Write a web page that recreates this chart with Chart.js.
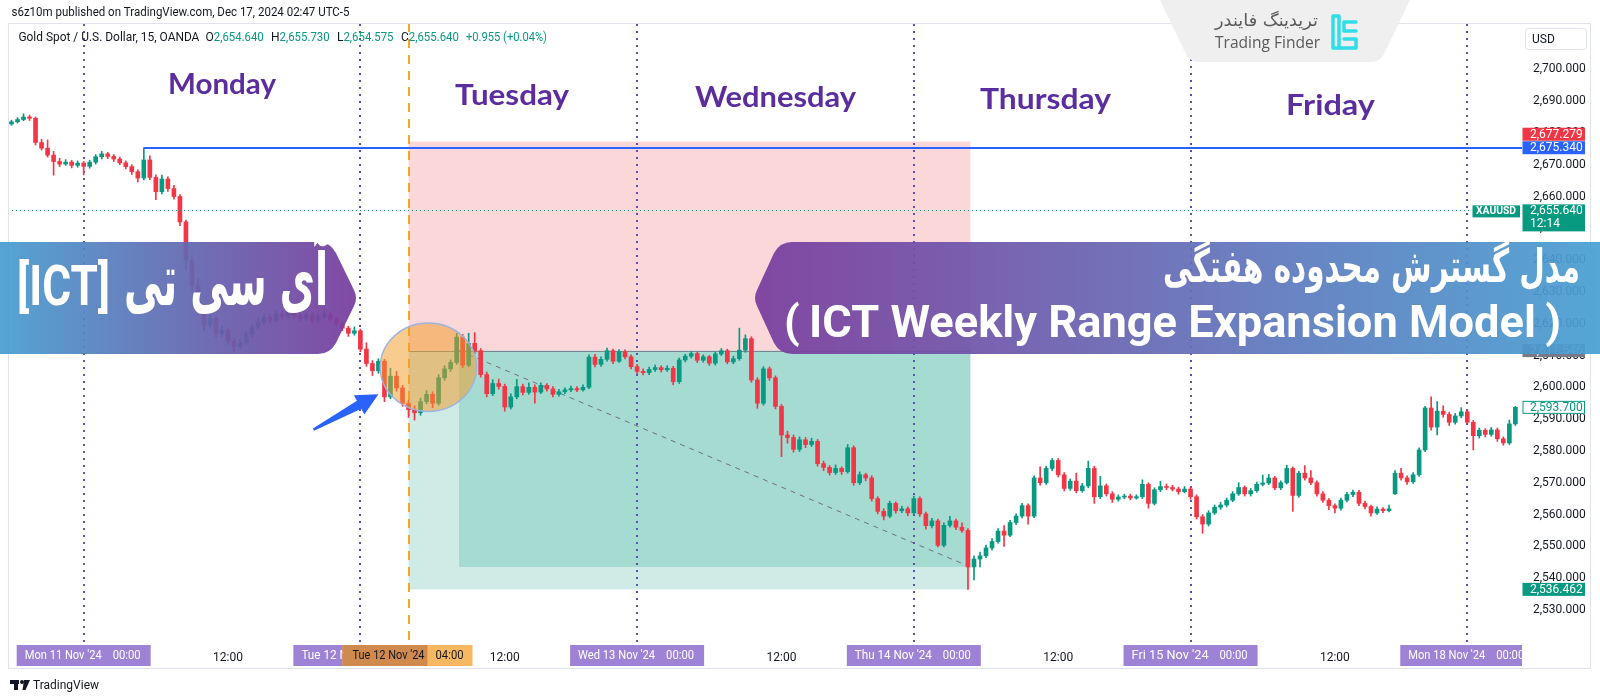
<!DOCTYPE html>
<html><head><meta charset="utf-8">
<script src="https://cdn.jsdelivr.net/npm/chart.js@4.4.1/dist/chart.umd.min.js"></script>
<style>html,body{margin:0;padding:0;background:#fff;}canvas{display:block;}</style>
</head><body>
<canvas id="c" width="1600" height="700"></canvas>
<script>
// ---- XAUUSD bars (30-min aggregation), index 0 = Sun 10 Nov 18:00 ----
const opens = [
2682.8,2683.5,2684.2,2685.0,2684.6,2677.0,2675.2,2673.0,2671.0,2670.2,
2670.8,2669.8,2670.5,2669.5,2670.8,2672.5,2673.4,2672.6,2671.8,2670.6,
2669.4,2667.8,2665.8,2671.5,2666.0,2661.5,2665.5,2662.5,2660.0,2652.0,
2640.0,2632.0,2624.5,2619.5,2621.5,2616.8,2618.0,2614.5,2612.8,2614.0,
2616.5,2619.0,2620.5,2622.0,2621.0,2623.0,2622.4,2623.8,2622.5,2621.6,
2622.8,2621.0,2622.2,2623.0,2621.4,2620.0,2618.6,2617.0,2617.8,2612.0,
2607.5,2605.2,2608.2,2597.0,2603.5,2599.8,2595.0,2593.0,2592.0,2595.5,
2597.8,2595.0,2603.0,2605.8,2607.8,2615.8,2607.0,2613.8,2611.5,2604.0,
2598.0,2601.2,2600.3,2593.8,2597.0,2600.2,2598.4,2600.0,2598.5,2600.6,
2599.5,2597.8,2598.6,2599.2,2599.6,2599.2,2600.0,2609.5,2607.2,2608.8,
2611.5,2608.2,2611.2,2609.6,2606.5,2605.0,2604.6,2605.6,2606.2,2605.5,
2606.0,2601.8,2608.6,2609.8,2610.6,2608.5,2609.6,2607.6,2610.5,2611.5,
2608.0,2609.0,2611.7,2615.3,2602.3,2595.0,2605.8,2603.0,2594.0,2585.0,
2584.2,2580.5,2583.5,2582.0,2583.0,2576.0,2574.8,2573.2,2574.5,2573.5,
2581.0,2570.0,2572.5,2571.5,2565.0,2561.0,2559.5,2563.5,2561.2,2561.8,
2560.5,2565.0,2560.2,2556.5,2558.0,2550.3,2556.6,2558.0,2556.0,2555.0,
2543.5,2546.0,2547.0,2549.5,2551.5,2554.8,2553.5,2557.5,2559.5,2562.8,
2559.5,2571.5,2570.0,2574.5,2577.0,2572.5,2568.2,2570.5,2567.5,2569.0,
2574.5,2565.6,2569.0,2566.5,2564.8,2565.5,2565.8,2565.2,2565.6,2569.5,
2563.5,2567.8,2568.8,2568.5,2568.0,2567.2,2568.0,2565.6,2559.3,2557.0,
2560.5,2562.3,2563.0,2564.5,2566.5,2568.5,2566.5,2567.5,2569.5,2569.9,
2571.5,2568.4,2570.0,2574.5,2566.0,2573.0,2571.5,2570.0,2566.5,2564.5,
2562.8,2562.0,2564.5,2566.3,2567.0,2563.5,2562.5,2560.5,2561.7,2561.2,
2566.5,2573.0,2571.5,2570.3,2572.5,2580.3,2593.5,2587.5,2592.5,2591.5,
2589.0,2591.0,2592.3,2589.0,2584.8,2586.5,2585.2,2586.6,2583.8,2582.5,
2588.5];
const highs = [
2684.0,2684.8,2686.0,2685.6,2685.0,2678.0,2677.8,2674.2,2672.0,2671.6,
2671.4,2671.2,2671.0,2671.4,2673.2,2674.2,2673.9,2673.2,2672.4,2671.2,
2670.0,2668.4,2675.34,2672.8,2666.8,2666.7,2666.2,2663.5,2660.6,2652.6,
2641.5,2634.0,2626.0,2623.0,2622.3,2619.4,2618.8,2615.6,2615.2,2617.5,
2620.0,2621.8,2623.2,2622.8,2624.0,2623.9,2625.5,2624.4,2623.2,2623.6,
2623.4,2623.0,2624.2,2623.6,2622.0,2620.8,2619.2,2619.0,2618.3,2614.0,
2608.4,2609.0,2608.8,2606.0,2605.0,2600.6,2596.0,2594.2,2596.6,2599.0,
2598.6,2604.0,2606.8,2608.6,2617.0,2616.6,2617.0,2617.2,2612.2,2604.8,
2602.4,2602.6,2601.0,2598.0,2602.5,2601.0,2601.4,2600.8,2601.4,2601.2,
2600.2,2599.4,2599.8,2600.4,2600.2,2600.8,2610.2,2610.4,2609.6,2612.3,
2612.0,2611.9,2611.8,2610.2,2607.2,2605.8,2606.4,2607.0,2606.8,2606.8,
2606.6,2609.2,2610.4,2611.3,2611.0,2610.2,2610.0,2611.0,2612.2,2612.0,
2609.8,2618.6,2616.5,2615.9,2603.0,2606.5,2606.4,2603.6,2594.6,2586.2,
2585.0,2584.4,2584.2,2584.0,2583.6,2576.8,2575.4,2575.6,2575.0,2582.0,
2581.6,2573.4,2573.0,2572.2,2565.6,2561.8,2564.2,2564.0,2562.6,2562.4,
2565.8,2565.6,2560.8,2558.8,2558.6,2557.4,2559.4,2558.6,2557.4,2555.6,
2547.0,2548.2,2550.4,2552.4,2555.6,2556.5,2558.2,2560.2,2563.5,2563.4,
2572.2,2575.0,2575.2,2577.6,2577.6,2573.2,2571.2,2573.0,2569.8,2576.8,
2575.2,2572.0,2569.6,2567.2,2566.2,2566.4,2566.4,2566.2,2570.9,2570.0,
2568.4,2570.5,2569.6,2569.2,2568.6,2568.8,2568.6,2566.2,2560.0,2561.2,
2563.0,2563.8,2565.2,2567.2,2570.0,2569.0,2568.2,2570.2,2572.4,2572.6,
2572.0,2570.6,2575.5,2575.0,2573.6,2575.4,2573.8,2570.6,2567.2,2565.0,
2563.4,2565.2,2567.0,2567.7,2567.6,2564.2,2563.0,2562.4,2562.2,2563.0,
2573.8,2574.5,2572.2,2573.2,2581.0,2594.0,2597.0,2595.5,2594.2,2592.2,
2591.8,2593.6,2593.0,2589.6,2587.2,2587.0,2587.4,2587.2,2584.4,2589.7,
2594.0];
const lows = [
2682.4,2683.1,2683.8,2683.9,2676.2,2674.6,2672.4,2666.7,2669.4,2669.8,
2669.0,2669.2,2666.8,2668.9,2670.2,2671.8,2671.9,2671.0,2670.0,2668.7,
2666.9,2664.6,2665.2,2665.3,2659.0,2660.8,2661.6,2659.2,2650.8,2637.0,
2630.5,2622.5,2617.8,2618.6,2615.8,2615.9,2613.4,2611.2,2612.0,2613.4,
2615.8,2618.4,2619.8,2620.0,2620.4,2621.5,2621.8,2621.6,2620.7,2621.0,
2620.2,2620.4,2621.6,2620.6,2619.2,2617.8,2616.0,2616.4,2611.2,2606.6,
2603.7,2604.4,2595.5,2596.4,2598.8,2594.0,2590.5,2589.7,2591.2,2594.8,
2593.6,2594.4,2602.2,2605.0,2607.2,2606.2,2606.5,2610.6,2603.2,2597.0,
2597.4,2599.4,2592.5,2593.2,2596.4,2597.6,2597.8,2595.0,2598.0,2598.8,
2597.0,2597.2,2598.0,2598.6,2598.6,2598.8,2599.6,2606.4,2606.6,2608.2,
2607.4,2607.8,2608.9,2605.8,2604.2,2603.9,2604.0,2605.0,2604.8,2605.0,
2600.8,2601.2,2608.0,2609.2,2607.8,2607.9,2606.9,2607.0,2610.0,2607.4,
2607.4,2608.5,2611.0,2601.6,2593.4,2594.4,2602.2,2593.2,2578.2,2582.4,
2579.6,2579.8,2581.0,2581.4,2575.2,2573.8,2572.4,2572.6,2572.6,2573.0,
2569.2,2569.4,2570.6,2564.2,2560.2,2558.3,2559.0,2560.4,2560.6,2559.6,
2560.0,2559.4,2555.4,2555.8,2549.8,2549.8,2556.0,2555.2,2554.4,2536.46,
2539.4,2543.5,2546.4,2548.8,2551.0,2550.0,2553.0,2556.8,2558.9,2557.0,
2559.0,2569.2,2569.5,2573.8,2571.8,2567.4,2567.6,2566.8,2567.0,2568.4,
2563.5,2565.0,2565.8,2563.8,2564.2,2565.0,2564.6,2564.8,2565.0,2562.0,
2563.0,2567.2,2567.8,2567.4,2566.4,2566.8,2564.8,2558.6,2554.1,2556.4,
2560.0,2561.6,2562.4,2564.0,2566.0,2565.8,2565.8,2567.0,2569.0,2569.4,
2567.8,2567.8,2569.6,2561.0,2565.4,2570.8,2569.4,2565.8,2563.8,2561.5,
2560.5,2561.4,2564.0,2565.6,2562.8,2561.8,2559.5,2560.0,2560.6,2560.8,
2566.3,2570.8,2569.5,2569.8,2572.0,2579.8,2586.5,2585.0,2590.6,2588.0,
2588.4,2590.4,2588.4,2580.3,2584.0,2584.4,2584.6,2583.0,2581.8,2582.0,
2588.0];
const closes = [
2683.5,2684.2,2685.0,2684.6,2677.0,2675.2,2673.0,2671.0,2670.2,2670.8,
2669.8,2670.5,2669.5,2670.8,2672.5,2673.4,2672.6,2671.8,2670.6,2669.4,
2667.8,2665.8,2671.5,2666.0,2661.5,2665.5,2662.5,2660.0,2652.0,2640.0,
2632.0,2624.5,2619.5,2621.5,2616.8,2618.0,2614.5,2612.8,2614.0,2616.5,
2619.0,2620.5,2622.0,2621.0,2623.0,2622.4,2623.8,2622.5,2621.6,2622.8,
2621.0,2622.2,2623.0,2621.4,2620.0,2618.6,2617.0,2617.8,2612.0,2607.5,
2605.2,2608.2,2597.0,2603.5,2599.8,2595.0,2593.0,2592.0,2595.5,2597.8,
2595.0,2603.0,2605.8,2607.8,2615.8,2607.0,2613.8,2611.5,2604.0,2598.0,
2601.2,2600.3,2593.8,2597.0,2600.2,2598.4,2600.0,2598.5,2600.6,2599.5,
2597.8,2598.6,2599.2,2599.6,2599.2,2600.0,2609.5,2607.2,2608.8,2611.5,
2608.2,2611.2,2609.6,2606.5,2605.0,2604.6,2605.6,2606.2,2605.5,2606.0,
2601.8,2608.6,2609.8,2610.6,2608.5,2609.6,2607.6,2610.5,2611.5,2608.0,
2609.0,2611.7,2615.3,2602.3,2595.0,2605.8,2603.0,2594.0,2585.0,2584.2,
2580.5,2583.5,2582.0,2583.0,2576.0,2574.8,2573.2,2574.5,2573.5,2581.0,
2570.0,2572.5,2571.5,2565.0,2561.0,2559.5,2563.5,2561.2,2561.8,2560.5,
2565.0,2560.2,2556.5,2558.0,2550.3,2556.6,2558.0,2556.0,2555.0,2543.5,
2546.0,2547.0,2549.5,2551.5,2554.8,2553.5,2557.5,2559.5,2562.8,2559.5,
2571.5,2570.0,2574.5,2577.0,2572.5,2568.2,2570.5,2567.5,2569.0,2574.5,
2565.6,2569.0,2566.5,2564.8,2565.5,2565.8,2565.2,2565.6,2569.5,2563.5,
2567.8,2568.8,2568.5,2568.0,2567.2,2568.0,2565.6,2559.3,2557.0,2560.5,
2562.3,2563.0,2564.5,2566.5,2568.5,2566.5,2567.5,2569.5,2569.9,2571.5,
2568.4,2570.0,2574.5,2566.0,2573.0,2571.5,2570.0,2566.5,2564.5,2562.8,
2562.0,2564.5,2566.3,2567.0,2563.5,2562.5,2560.5,2561.7,2561.2,2561.8,
2573.0,2571.5,2570.3,2572.5,2580.3,2593.5,2587.5,2592.5,2591.5,2589.0,
2591.0,2592.3,2589.0,2584.8,2586.5,2585.2,2586.6,2583.8,2582.5,2588.5,
2593.7];

// ---- time axis ----
const dayStartIdx = [12, 58, 104, 150, 196, 242];
const dayStartLabels = ["Mon 11 Nov '24", "Tue 12 Nov '24", "Wed 13 Nov '24", "Thu 14 Nov '24", "Fri 15 Nov '24", "Mon 18 Nov '24"];
const noonIdx = [36, 82, 128, 174, 220];
const noonLabels = ["12:00", "12:00", "12:00", "12:00", "12:00"];
const dayNames = ["Monday", "Tuesday", "Wednesday", "Thursday", "Friday"];
const yTicks = [2530,2540,2550,2560,2570,2580,2590,2600,2610,2620,2630,2640,2650,2660,2670,2680,2690,2700];

// ---- drawing tools (values) ----
const weekOpenIdx = 66;            // Tue 12 Nov 04:00
const positionEndIdx = 159.4;
const entryIdx = 74.4;
const stopPrice = 2677.279;
const entryPrice = 2611.546;
const targetPrice = 2536.462;
const exitPrice = 2543.5;
const mondayHighIdx = 22;
const mondayHighPrice = 2675.34;
const livePrice = 2655.64;
const lastClose = 2593.7;
const circleCenter = [69.3, 2606.3];
const circleRadius = [8.0, 13.9];
const arrowTail = [50.2, 2586.7];
const arrowTip = [61.0, 2597.8];

const UP = '#089981', DOWN = '#f23645';
const idx = closes.map((_, i) => i);
const bodyData = idx.map(i => ({x: i, y: [Math.min(opens[i], closes[i]), Math.max(opens[i], closes[i])]}));
const wickData = idx.map(i => ({x: i, y: [lows[i], highs[i]]}));
const colors = idx.map(i => closes[i] >= opens[i] ? UP : DOWN);

const fmt = v => v.toLocaleString('en-US', {minimumFractionDigits: 3, maximumFractionDigits: 3});

function fitText(ctx, text, x, y, w, font, color, rtl) {
  ctx.save();
  ctx.font = font; ctx.fillStyle = color; ctx.textBaseline = 'middle'; ctx.textAlign = 'left';
  if (rtl) ctx.direction = 'rtl';
  const m = ctx.measureText(text).width || 1;
  ctx.translate(x, y); ctx.scale(w / m, 1);
  ctx.fillText(text, 0, 0);
  ctx.restore();
}
function plainText(ctx, text, x, y, font, color, align) {
  ctx.save(); ctx.font = font; ctx.fillStyle = color; ctx.textBaseline = 'middle'; ctx.textAlign = align || 'left';
  ctx.fillText(text, x, y); ctx.restore();
}
function rrect(ctx, x, y, w, h, r) {
  ctx.beginPath(); ctx.moveTo(x + r, y); ctx.lineTo(x + w - r, y); ctx.quadraticCurveTo(x + w, y, x + w, y + r);
  ctx.lineTo(x + w, y + h - r); ctx.quadraticCurveTo(x + w, y + h, x + w - r, y + h); ctx.lineTo(x + r, y + h);
  ctx.quadraticCurveTo(x, y + h, x, y + h - r); ctx.lineTo(x, y + r); ctx.quadraticCurveTo(x, y, x + r, y); ctx.closePath();
}

const overlay = {
  id: 'overlay',
  beforeDraw(chart) {
    const c = chart.ctx; c.save(); c.fillStyle = '#ffffff'; c.fillRect(0, 0, chart.width, chart.height); c.restore();
  },
  beforeDatasetsDraw(chart) {
    const {ctx, chartArea: a, scales: {x, y}} = chart;
    ctx.save();
    const x0 = x.getPixelForValue(weekOpenIdx), x1 = x.getPixelForValue(positionEndIdx), xe = x.getPixelForValue(entryIdx);
    const yS = y.getPixelForValue(stopPrice), yE = y.getPixelForValue(entryPrice), yT = y.getPixelForValue(targetPrice), yX = y.getPixelForValue(exitPrice);
    ctx.fillStyle = 'rgba(242,54,69,0.2)'; ctx.fillRect(x0, yS, x1 - x0, yE - yS);
    ctx.fillStyle = 'rgba(8,153,129,0.2)'; ctx.fillRect(x0, yE, x1 - x0, yT - yE);
    ctx.fillRect(xe, yE, x1 - xe, yX - yE);
    ctx.strokeStyle = 'rgba(120,123,134,0.9)'; ctx.lineWidth = 1;
    ctx.beginPath(); ctx.moveTo(x0, Math.round(yE) + 0.5); ctx.lineTo(x1, Math.round(yE) + 0.5); ctx.stroke();
    ctx.setLineDash([5, 5]); ctx.strokeStyle = '#6f7380';
    ctx.beginPath(); ctx.moveTo(xe, yE); ctx.lineTo(x1, yX); ctx.stroke();
    // day separators
    ctx.strokeStyle = '#5a54b0'; ctx.lineWidth = 2; ctx.setLineDash([2, 5]);
    dayStartIdx.forEach(d => {
      const px = Math.round(x.getPixelForValue(d));
      ctx.beginPath(); ctx.moveTo(px, a.top + 1); ctx.lineTo(px, a.bottom + 1); ctx.stroke();
    });
    // week open (orange dashed)
    ctx.strokeStyle = '#f5a623'; ctx.lineWidth = 2; ctx.setLineDash([9, 7]);
    const xo = Math.round(x0);
    ctx.beginPath(); ctx.moveTo(xo, a.top); ctx.lineTo(xo, a.bottom); ctx.stroke();
    ctx.restore();
  },
  afterDatasetsDraw(chart) {
    const {ctx, chartArea: a, scales: {x, y}} = chart;
    ctx.save();
    // Monday high line
    const yH = Math.round(y.getPixelForValue(mondayHighPrice));
    ctx.strokeStyle = '#2962ff'; ctx.lineWidth = 2;
    ctx.beginPath(); ctx.moveTo(x.getPixelForValue(mondayHighIdx), yH); ctx.lineTo(a.right, yH); ctx.stroke();
    // live price dotted
    const yL = Math.round(y.getPixelForValue(livePrice)) + 0.5;
    ctx.strokeStyle = UP; ctx.lineWidth = 1; ctx.setLineDash([1, 3]);
    ctx.beginPath(); ctx.moveTo(a.left, yL); ctx.lineTo(1472, yL); ctx.stroke();
    ctx.setLineDash([]);
    // ellipse
    const cx = x.getPixelForValue(circleCenter[0]), cy = y.getPixelForValue(circleCenter[1]);
    const rx = x.getPixelForValue(circleCenter[0] + circleRadius[0]) - cx;
    const ry = cy - y.getPixelForValue(circleCenter[1] + circleRadius[1]);
    ctx.beginPath(); ctx.ellipse(cx, cy, rx, ry, 0, 0, Math.PI * 2);
    ctx.fillStyle = 'rgba(242,156,40,0.52)'; ctx.fill();
    ctx.strokeStyle = '#9fb3df'; ctx.lineWidth = 1.5; ctx.stroke();
    // arrow
    const sx = x.getPixelForValue(arrowTail[0]), sy = y.getPixelForValue(arrowTail[1]);
    const tx = x.getPixelForValue(arrowTip[0]), ty = y.getPixelForValue(arrowTip[1]);
    const len = Math.hypot(tx - sx, ty - sy), dx = (tx - sx) / len, dy = (ty - sy) / len, nx = -dy, ny = dx;
    const hl = 22, bx = tx - dx * hl, by = ty - dy * hl;
    ctx.fillStyle = '#2962ff';
    ctx.beginPath();
    ctx.moveTo(sx + nx * 1.2, sy + ny * 1.2);
    ctx.lineTo(bx + nx * 4.5, by + ny * 4.5);
    ctx.lineTo(bx + nx * 11, by + ny * 11);
    ctx.lineTo(tx, ty);
    ctx.lineTo(bx - nx * 11, by - ny * 11);
    ctx.lineTo(bx - nx * 4.5, by - ny * 4.5);
    ctx.lineTo(sx - nx * 1.2, sy - ny * 1.2);
    ctx.closePath(); ctx.fill();
    // day names
    const dayPos = [[168, 85, 108], [455, 96, 114], [695, 98, 161], [980, 100, 131], [1286, 106, 89]];
    dayNames.forEach((n, i) => fitText(ctx, n, dayPos[i][0], dayPos[i][1], dayPos[i][2], 'bold 29px Lato', '#5b2d9e'));
    ctx.restore();
  },
  afterDraw(chart) {
    const {ctx, chartArea: a, scales: {x, y}} = chart;
    ctx.save();
    // pane frame
    ctx.strokeStyle = '#e0e3eb'; ctx.lineWidth = 1;
    ctx.strokeRect(8.5, 23.5, 1582, 645);
    // header
    fitText(ctx, 's6z10m published on TradingView.com, Dec 17, 2024 02:47 UTC-5', 11.5, 13, 338, '12px Roboto', '#131722');
    fitText(ctx, 'Gold Spot / U.S. Dollar, 15, OANDA', 18.4, 37.5, 181, '12px Roboto', '#131722');
    const hdr = [['O', 205.5, '2,654.640'], ['H', 271, '2,655.730'], ['L', 337, '2,654.575'], ['C', 401, '2,655.640']];
    hdr.forEach(h => {
      plainText(ctx, h[0], h[1], 37.5, '12px Roboto', '#131722');
      ctx.save(); ctx.font = '12px Roboto'; const lw = ctx.measureText(h[0]).width; ctx.restore();
      fitText(ctx, h[2], h[1] + lw, 37.5, 50, '12px Roboto', UP);
    });
    fitText(ctx, '+0.955 (+0.04%)', 466, 37.5, 81, '12px Roboto', UP);
    // USD box
    ctx.fillStyle = '#fff'; rrect(ctx, 1525.5, 28.5, 61, 21, 3); ctx.fill(); ctx.strokeStyle = '#e0e3eb'; ctx.stroke();
    plainText(ctx, 'USD', 1532, 39.5, '12px Roboto', '#131722');
    // price labels
    const lbl = (cy, text, bg, fg, border) => {
      ctx.fillStyle = bg; ctx.fillRect(1522.5, cy - 6.5, 62.5, 13);
      if (border) { ctx.strokeStyle = border; ctx.lineWidth = 1; ctx.strokeRect(1523, cy - 6, 61.5, 12); }
      plainText(ctx, text, 1530, cy + 0.5, '12px Roboto', fg);
    };
    const yBlue = y.getPixelForValue(mondayHighPrice);
    const yRed = Math.min(y.getPixelForValue(stopPrice), yBlue - 13.5);
    lbl(yRed, fmt(stopPrice), '#f23645', '#fff');
    lbl(yBlue, fmt(mondayHighPrice), '#2962ff', '#fff');
    const yLive = y.getPixelForValue(livePrice);
    ctx.fillStyle = UP; ctx.fillRect(1472.5, yLive - 5, 47.5, 12);
    fitText(ctx, 'XAUUSD', 1476, yLive + 1.2, 40, 'bold 11px Roboto', '#fff');
    ctx.fillStyle = UP; ctx.fillRect(1522.5, yLive - 6, 62.5, 27);
    plainText(ctx, fmt(livePrice), 1530, yLive + 1, '12px Roboto', '#fff');
    plainText(ctx, '12:14', 1530, yLive + 14, '12px Roboto', '#fff');
    lbl(y.getPixelForValue(entryPrice), fmt(entryPrice), '#787b86', '#fff');
    lbl(y.getPixelForValue(lastClose), fmt(lastClose), '#fff', UP, UP);
    lbl(y.getPixelForValue(targetPrice), fmt(targetPrice), UP, '#fff');
    // time axis boxes
    ctx.save(); ctx.beginPath(); ctx.rect(a.left, a.bottom, a.right - a.left, 40); ctx.clip();
    dayStartIdx.forEach((d, i) => {
      const cx = x.getPixelForValue(d), x0 = cx - 67;
      ctx.fillStyle = '#9d82d6'; ctx.fillRect(x0, 645, 134, 21);
      fitText(ctx, dayStartLabels[i], x0 + 8, 656, 77, '12px Roboto', '#ffffff');
      fitText(ctx, '00:00', x0 + 96, 656, 28, '12px Roboto', '#ffffff');
    });
    const ox = x.getPixelForValue(weekOpenIdx), oL = ox - 66, oR = ox + 64;
    const tueRight = x.getPixelForValue(dayStartIdx[1]) + 67;
    ctx.fillStyle = '#f8b862'; ctx.fillRect(oL, 645, oR - oL, 21);
    ctx.fillStyle = '#d08a4e'; ctx.fillRect(oL, 645, tueRight - oL, 21);
    fitText(ctx, "Tue 12 Nov '24", oL + 10, 656, 72, '12px Roboto', '#131722');
    fitText(ctx, '04:00', oL + 93, 656, 28, '12px Roboto', '#131722');
    ctx.restore();
    // TradingView footer
    ctx.fillStyle = '#131722';
    ctx.fillRect(10, 680, 9, 4); ctx.fillRect(14, 680, 4, 10);
    ctx.beginPath(); ctx.arc(22, 682, 2, 0, Math.PI * 2); ctx.fill();
    ctx.beginPath(); ctx.moveTo(24, 680); ctx.lineTo(30, 680); ctx.lineTo(25.5, 690); ctx.lineTo(22.5, 690); ctx.closePath(); ctx.fill();
    fitText(ctx, 'TradingView', 33, 685.5, 66, '12px Roboto', '#131722');
    // Trading Finder logo tab
    ctx.fillStyle = '#efefef';
    ctx.beginPath(); ctx.moveTo(1160, 0); ctx.lineTo(1410, 0); ctx.lineTo(1384, 54);
    ctx.quadraticCurveTo(1380, 62, 1371, 62); ctx.lineTo(1199, 62); ctx.quadraticCurveTo(1190, 62, 1186, 54); ctx.closePath(); ctx.fill();
    fitText(ctx, 'تریدینگ فایندر', 1215, 22, 103, '17px "DejaVu Sans"', '#5a5a5a', true);
    fitText(ctx, 'Trading Finder', 1215, 43.5, 105, '16px "Open Sans"', '#5a5a5a');
    ctx.strokeStyle = '#30dde8'; ctx.lineWidth = 3.5; ctx.lineJoin = 'round'; ctx.lineCap = 'round';
    ctx.beginPath(); ctx.moveTo(1333, 16); ctx.lineTo(1339, 16); ctx.lineTo(1339, 48); ctx.lineTo(1333, 48); ctx.closePath(); ctx.stroke();
    ctx.beginPath(); ctx.moveTo(1356, 22); ctx.lineTo(1344, 22); ctx.lineTo(1344, 31); ctx.lineTo(1356, 31); ctx.stroke();
    ctx.beginPath(); ctx.moveTo(1339, 48); ctx.lineTo(1356, 48); ctx.lineTo(1356, 39); ctx.lineTo(1344, 39); ctx.stroke();
    // banners
    const gL = ctx.createLinearGradient(0, 0, 358, 0);
    gL.addColorStop(0, 'rgba(72,158,208,0.93)'); gL.addColorStop(0.55, 'rgba(100,100,175,0.93)'); gL.addColorStop(1, 'rgba(122,62,158,0.94)');
    ctx.fillStyle = gL;
    ctx.beginPath(); ctx.moveTo(0, 242); ctx.lineTo(318, 242); ctx.quadraticCurveTo(330, 242, 336, 253);
    ctx.lineTo(354, 290); ctx.quadraticCurveTo(358, 298, 354, 306); ctx.lineTo(336, 343);
    ctx.quadraticCurveTo(330, 354, 318, 354); ctx.lineTo(0, 354); ctx.closePath(); ctx.fill();
    const gR = ctx.createLinearGradient(755, 0, 1600, 0);
    gR.addColorStop(0, 'rgba(122,62,158,0.94)'); gR.addColorStop(0.45, 'rgba(104,104,180,0.93)'); gR.addColorStop(1, 'rgba(72,160,210,0.93)');
    ctx.fillStyle = gR;
    ctx.beginPath(); ctx.moveTo(1600, 242); ctx.lineTo(792, 242); ctx.quadraticCurveTo(780, 242, 774, 253);
    ctx.lineTo(757, 290); ctx.quadraticCurveTo(753, 298, 757, 306); ctx.lineTo(774, 343);
    ctx.quadraticCurveTo(780, 354, 792, 354); ctx.lineTo(1600, 354); ctx.closePath(); ctx.fill();
    fitText(ctx, '[ICT]', 17, 291, 93, 'bold 56px Roboto', '#ffffff');
    fitText(ctx, 'آی سی تی', 124, 286, 204, 'bold 72px "DejaVu Sans"', '#ffffff', true);
    fitText(ctx, 'مدل گسترش محدوده هفتگی', 1163, 270, 417, 'bold 46px "DejaVu Sans"', '#ffffff', true);
    fitText(ctx, '(\u2009ICT Weekly Range Expansion Model\u2009)', 784, 326, 777, 'bold 44px Roboto', '#ffffff');
    ctx.restore();
  }
};

new Chart(document.getElementById('c'), {
  type: 'bar',
  data: {
    datasets: [
      {data: bodyData, backgroundColor: colors, barThickness: 4, grouped: false, minBarLength: 1, borderWidth: 0},
      {data: wickData, backgroundColor: colors, barThickness: 1, grouped: false, borderWidth: 0}
    ]
  },
  options: {
    responsive: false, animation: false, devicePixelRatio: 1,
    layout: {padding: {left: 8, right: 10, top: 23, bottom: 31}},
    plugins: {legend: {display: false}, tooltip: {enabled: false}},
    scales: {
      x: {
        type: 'linear', min: -0.58, max: 251.1, offset: false,
        grid: {display: false}, border: {display: false},
        afterFit: s => { s.height = 26; },
        afterBuildTicks: s => { s.ticks = noonIdx.map(v => ({value: v})); },
        ticks: {autoSkip: false, maxRotation: 0, padding: 0, color: '#131722', font: {family: 'Roboto', size: 12},
          callback: (v, i) => noonLabels[i]}
      },
      y: {
        position: 'right', min: 2519.6, max: 2714.56,
        grid: {display: false}, border: {display: false},
        afterFit: s => { s.width = 68; },
        afterBuildTicks: s => { s.ticks = yTicks.map(v => ({value: v})); },
        ticks: {padding: 3, color: '#131722', font: {family: 'Roboto', size: 12}, callback: v => fmt(v)}
      }
    }
  },
  plugins: [overlay]
});
</script>
</body></html>
